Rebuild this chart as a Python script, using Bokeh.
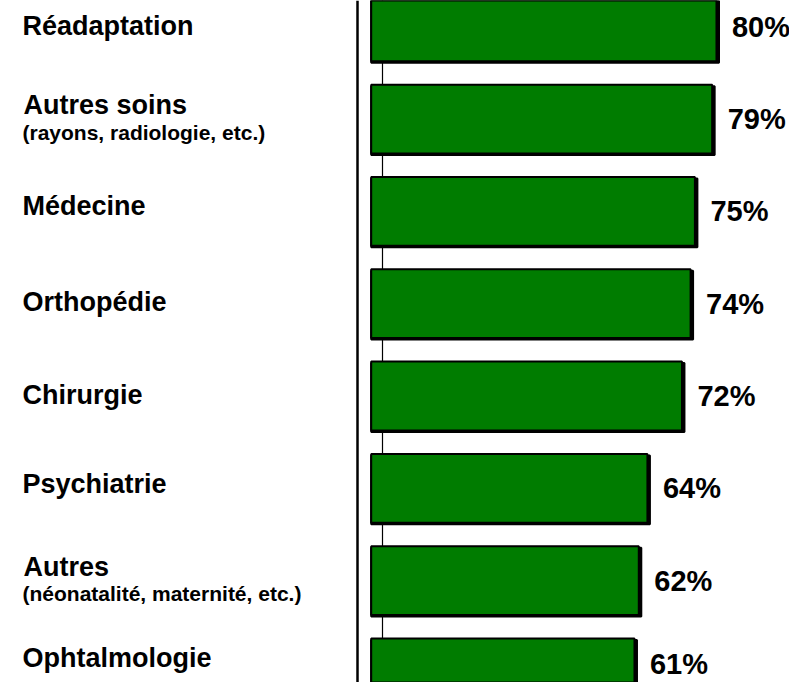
from bokeh.plotting import figure
from bokeh.models import Range1d, Span, ColumnDataSource
from bokeh.core.properties import value
from bokeh.embed import file_html
from bokeh.resources import INLINE

categories = ["Réadaptation", "Autres soins", "Médecine", "Orthopédie",
              "Chirurgie", "Psychiatrie", "Autres", "Ophtalmologie"]
sublabels = ["", "(rayons, radiologie, etc.)", "", "", "", "",
             "(néonatalité, maternité, etc.)", ""]
values = [80, 79, 75, 74, 72, 64, 62, 61]
value_labels = ["80%", "79%", "75%", "74%", "72%", "64%", "62%", "61%"]

W, H = 789, 682
PX_PER_UNIT = 4.316
X0_PX = 370.7
X_START = -X0_PX / PX_PER_UNIT
X_END = (W - X0_PX) / PX_PER_UNIT
PITCH = 92.3
C0 = 26.3
Y_TOP = -C0 / PITCH
Y_BOT = (H - C0) / PITCH

# small pixel nudges for text placement (style only)
LABEL_DY = [0, 0, -4, -1, 0, -3, 0, -14]
VALUE_DY = [0, 0, 0, 0, 0, 0, 0, -9]

FONT = value("Liberation Sans")
GREEN = "#007c00"

p = figure(width=W, height=H, output_backend="svg", toolbar_location=None,
           x_range=Range1d(X_START, X_END), y_range=Range1d(Y_BOT, Y_TOP),
           min_border=0)
p.axis.visible = False
p.grid.visible = False
p.outline_line_color = None
p.background_fill_color = "white"
p.border_fill_color = "white"

idx = list(range(len(categories)))
shadow_dx = 2.5 / PX_PER_UNIT
shadow_dy = 1.5 / PITCH
src = ColumnDataSource(dict(
    y=idx, v=values,
    ys=[i + shadow_dy for i in idx],
    vs=[v + shadow_dx for v in values],
    ty=[i + d / PITCH for i, d in zip(idx, VALUE_DY)],
    lab=value_labels,
))

# axis-like lines
p.add_layout(Span(location=(357 - X0_PX) / PX_PER_UNIT, dimension="height",
                  line_color="black", line_width=2.5, level="underlay"))
p.add_layout(Span(location=(382 - X0_PX) / PX_PER_UNIT, dimension="height",
                  line_color="black", line_width=1.2, level="underlay"))

BH = 0.745
p.hbar(y="ys", left=0, right="vs", height=BH, source=src,
       fill_color="black", line_color="black", line_width=2)
p.hbar(y="y", left=0, right="v", height=BH, source=src,
       fill_color=GREEN, line_color="black", line_width=2)

p.text(x="vs", y="ty", text="lab", source=src, x_offset=13,
       text_font=FONT, text_font_style="bold", text_font_size="29px",
       text_baseline="middle", text_align="left", text_color="black")

single_i = [i for i in idx if not sublabels[i]]
double_i = [i for i in idx if sublabels[i]]
single = ColumnDataSource(dict(
    y=[i + LABEL_DY[i] / PITCH for i in single_i],
    t=[categories[i] for i in single_i],
    x=[X_START] * len(single_i)))
double = ColumnDataSource(dict(
    y=[i + LABEL_DY[i] / PITCH for i in double_i],
    t=[categories[i] for i in double_i],
    s=[sublabels[i] for i in double_i],
    x=[X_START] * len(double_i)))

p.text(x="x", y="y", text="t", source=single, x_offset=22, y_offset=-1,
       text_font=FONT, text_font_style="bold", text_font_size="27px",
       text_baseline="middle", text_align="left", text_color="black")
p.text(x="x", y="y", text="t", source=double, x_offset=23, y_offset=-14,
       text_font=FONT, text_font_style="bold", text_font_size="27px",
       text_baseline="middle", text_align="left", text_color="black")
p.text(x="x", y="y", text="s", source=double, x_offset=22, y_offset=13,
       text_font=FONT, text_font_style="bold", text_font_size="21px",
       text_baseline="middle", text_align="left", text_color="black")

open("out.html", "w").write(file_html(p, INLINE))
